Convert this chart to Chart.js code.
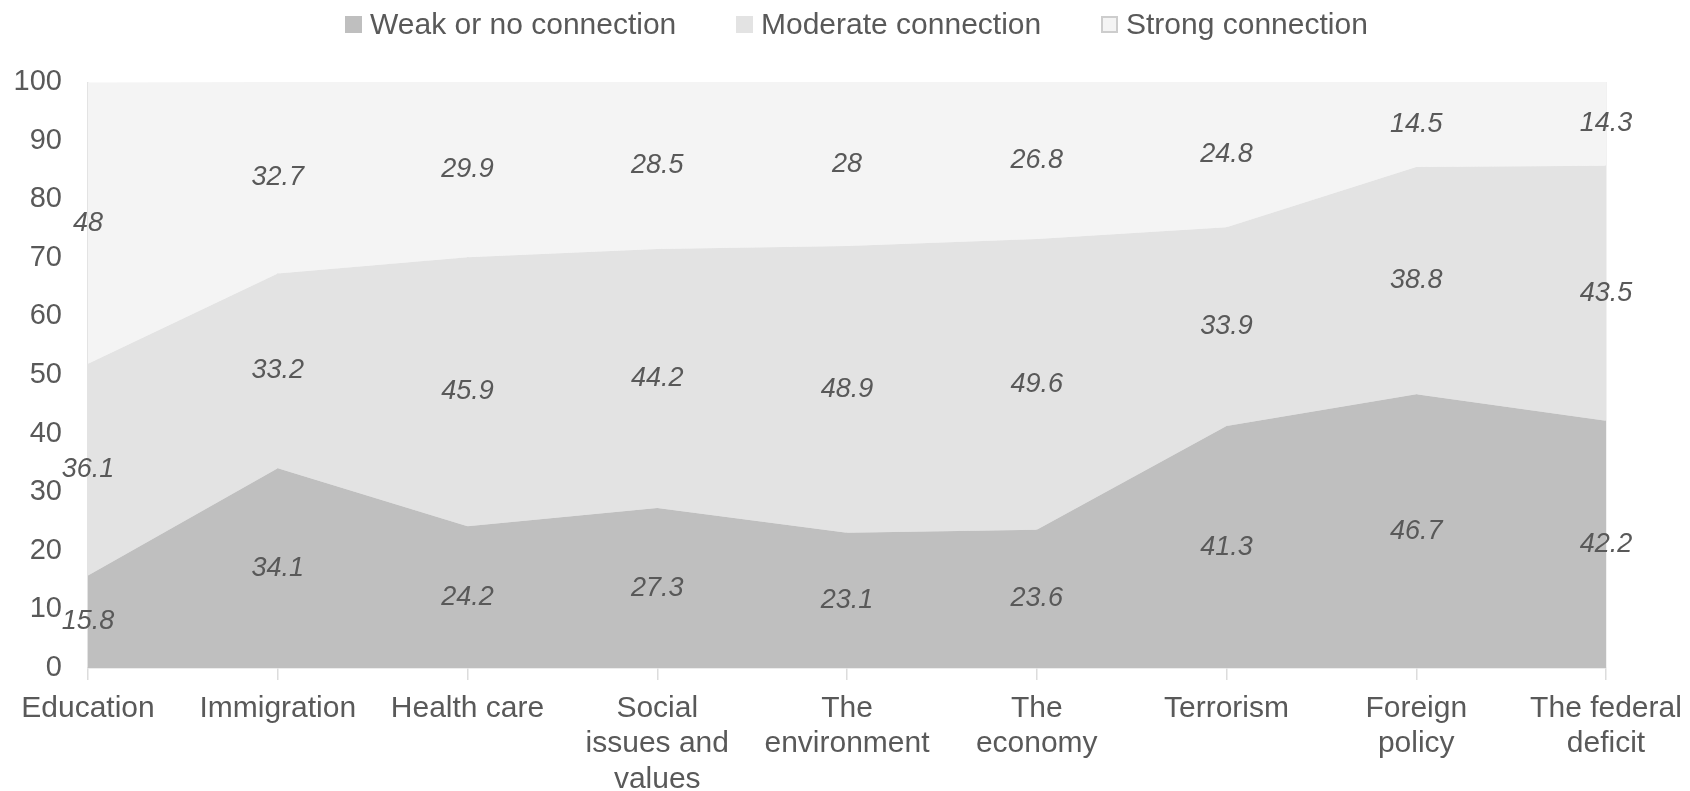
<!DOCTYPE html>
<html>
<head>
<meta charset="utf-8">
<script src="https://cdn.jsdelivr.net/npm/chart.js@4/dist/chart.umd.min.js"></script>
<style>
html,body{margin:0;padding:0;background:#fff;}
#wrap{width:1690px;height:791px;position:relative;}
#legend{position:absolute;left:0;top:0;width:1690px;height:50px;font-family:'Liberation Sans',Arial,sans-serif;font-size:30px;color:#595959;}
.li{position:absolute;top:7px;height:34px;line-height:34px;white-space:nowrap;}
.sw{display:inline-block;width:17px;height:17px;vertical-align:middle;margin-right:8px;position:relative;top:-2px;box-sizing:border-box;}
</style>
</head>
<body>
<div id="wrap"><canvas id="c"></canvas><div id="legend"></div></div>
<script>
const categories = [
  "Education", "Immigration", "Health care", ["Social","issues and","values"],
  ["The","environment"], ["The","economy"], "Terrorism", ["Foreign","policy"], ["The federal","deficit"]
];
const weak     = [15.8, 34.1, 24.2, 27.3, 23.1, 23.6, 41.3, 46.7, 42.2];
const moderate = [36.1, 33.2, 45.9, 44.2, 48.9, 49.6, 33.9, 38.8, 43.5];
const strong   = [48, 32.7, 29.9, 28.5, 28, 26.8, 24.8, 14.5, 14.3];
const seriesNames = ["Weak or no connection", "Moderate connection", "Strong connection"];
const yTicks = [0,10,20,30,40,50,60,70,80,90,100];

const FONT = "'Liberation Sans', Arial, sans-serif";
const TXT = "#595959";
const fills = ['#bfbfbf', '#e3e3e3', '#f4f4f4'];

// HTML legend built from the series names
const legendLeft = [345, 736, 1101];
const lg = document.getElementById('legend');
seriesNames.forEach((name, i) => {
  const d = document.createElement('div');
  d.className = 'li';
  d.style.left = legendLeft[i] + 'px';
  const sw = document.createElement('span');
  sw.className = 'sw';
  sw.style.background = fills[i];
  if (i === 2) sw.style.border = '2px solid #cdcdcd';
  d.appendChild(sw);
  d.appendChild(document.createTextNode(name));
  lg.appendChild(d);
});

const labelPlugin = {
  id: 'bandLabels',
  afterDatasetsDraw(chart) {
    const ctx = chart.ctx;
    const ys = chart.scales.y;
    const sets = chart.data.datasets;
    ctx.save();
    ctx.font = "italic 27px " + FONT;
    ctx.fillStyle = TXT;
    ctx.textAlign = 'center';
    ctx.textBaseline = 'middle';
    sets.forEach((ds, di) => {
      const meta = chart.getDatasetMeta(di);
      meta.data.forEach((pt, i) => {
        let below = 0;
        for (let k = 0; k < di; k++) below += sets[k].data[i];
        const v = ds.data[i];
        const y = ys.getPixelForValue(below + v / 2);
        ctx.fillText(String(v), pt.x, y);
      });
    });
    ctx.restore();
  }
};

new Chart(document.getElementById('c'), {
  type: 'line',
  data: {
    labels: categories,
    datasets: [
      { label: seriesNames[0], data: weak, backgroundColor: fills[0], borderColor: fills[0], borderWidth: 0, fill: 'origin', pointRadius: 0, tension: 0 },
      { label: seriesNames[1], data: moderate, backgroundColor: fills[1], borderColor: fills[1], borderWidth: 0, fill: '-1', pointRadius: 0, tension: 0 },
      { label: seriesNames[2], data: strong, backgroundColor: fills[2], borderColor: fills[2], borderWidth: 0, fill: '-1', pointRadius: 0, tension: 0 }
    ]
  },
  options: {
    responsive: true,
    maintainAspectRatio: false,
    animation: false,
    layout: { padding: { left: 13, right: 84, top: 82, bottom: 0 } },
    plugins: {
      tooltip: { enabled: false },
      legend: { display: false }
    },
    scales: {
      x: {
        z: 1,
        afterFit(scale) { scale.height = 123; scale.paddingRight = 0; scale.paddingLeft = 0; },
        grid: { display: true, color: 'rgba(0,0,0,0.11)', lineWidth: 1.5, drawTicks: true, tickLength: 12, tickColor: '#dcdcdc' },
        border: { display: true, color: '#d9d9d9', width: 1.5 },
        ticks: {
          font: { family: FONT, size: 30, lineHeight: 1.18 },
          color: TXT,
          padding: 11,
          autoSkip: false,
          maxRotation: 0,
          minRotation: 0
        }
      },
      y: {
        stacked: true,
        min: 0,
        max: 100,
        afterBuildTicks(scale) { scale.ticks = yTicks.map(v => ({ value: v })); },
        afterFit(scale) { scale.width = 75; },
        grid: { display: false, drawTicks: false },
        border: { display: false },
        ticks: {
          font: { family: FONT, size: 29 },
          color: TXT,
          padding: 26
        }
      }
    }
  },
  plugins: [labelPlugin]
});
</script>
</body>
</html>
